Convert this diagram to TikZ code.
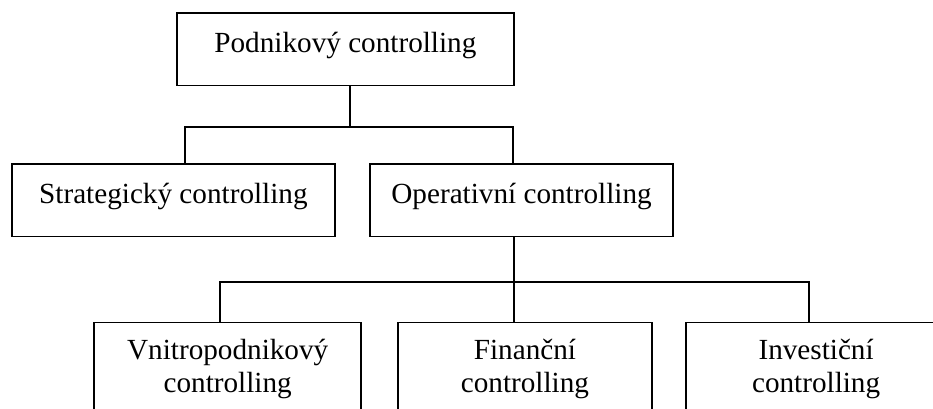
\documentclass[tikz,border=0pt]{standalone}
\usepackage{fontspec}
\setmainfont{Liberation Serif}
\begin{document}
\begin{tikzpicture}[x=0.75pt,y=-0.75pt,
  box/.style={draw, line width=1.35pt, inner sep=0pt, anchor=north west,
    font=\fontsize{21.9}{24.75}\selectfont},
  one/.style={text height=30pt, text depth=24.4pt},
  two/.style={text height=27.75pt, text depth=120pt},
  conn/.style={line width=1.2pt}]
\useasboundingbox (0,0) rectangle (933,409);
\clip (0,0) rectangle (933,409);
\node[box,one,minimum width=252.75pt] (top) at (176,12) {Podnikový controlling};
\node[box,one,minimum width=242.7pt] (strat) at (10.7,163) {Strategický controlling};
\node[box,one,minimum width=227pt] (oper) at (369.3,163) {Operativní controlling};
\node[box,two,minimum width=200.25pt] (vni) at (93.3,321.7) {\begin{tabular}[t]{@{}c@{}}Vnitropodnikový\\controlling\end{tabular}};
\node[box,two,minimum width=191pt] (fin) at (396.7,321.7) {\begin{tabular}[t]{@{}c@{}}Finanční\\controlling\end{tabular}};
\node[box,two,minimum width=195.75pt] (inv) at (684.7,321.7) {\begin{tabular}[t]{@{}c@{}}Investiční\\controlling\end{tabular}};
\coordinate (b1T) at (350,127);
\coordinate (b1L) at (185,127);
\coordinate (b1R) at (513,127);
\coordinate (b2L) at (220,282.3);
\coordinate (b2M) at (513.7,282.3);
\coordinate (b2R) at (808.7,282.3);
\draw[conn] (top.south -| b1T) -- (b1T);
\draw[conn] (strat.north -| b1L) -- (b1L) -- (b1R) -- (oper.north -| b1R);
\draw[conn] (oper.south -| b2M) -- (fin.north -| b2M);
\draw[conn] (vni.north -| b2L) -- (b2L) -- (b2R) -- (inv.north -| b2R);
\end{tikzpicture}
\end{document}
